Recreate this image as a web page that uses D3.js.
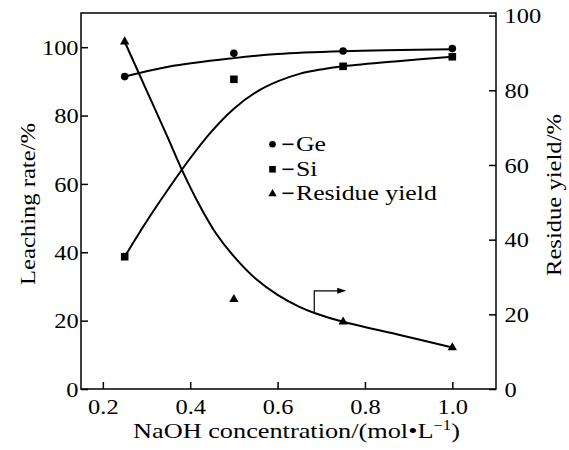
<!DOCTYPE html>
<html><head><meta charset="utf-8">
<script src="https://cdn.jsdelivr.net/npm/d3@7"></script>
<style>body{margin:0;background:#fff}svg{display:block}text{font-family:"Liberation Serif","Times New Roman",serif;fill:#000}</style>
</head><body><svg id="c" width="569" height="450"></svg>
<script>
// ---- data ----
const conc = [0.25, 0.5, 0.75, 1.0];
const ge = [91.4, 98.2, 98.9, 99.6];
const si = [38.7, 90.6, 94.4, 97.2];
const residue = [93.0, 24.0, 18.0, 11.1];
// fitted curves as drawn in the picture
const geFitX = [0.25, 0.35, 0.5, 0.6, 0.75, 1.0];
const geFitY = [91.4, 94.3, 96.8, 98.0, 98.8, 99.4];
const siFitX = [0.25, 0.3, 0.35, 0.4, 0.45, 0.5, 0.55, 0.6, 0.65, 0.7, 0.75, 0.875, 1.0];
const siFitY = [38.7, 49.0, 58.5, 67.5, 75.5, 82.0, 86.8, 90.0, 92.2, 93.5, 94.4, 95.9, 97.2];
const resFitX = [0.25, 0.3, 0.35, 0.381, 0.42, 0.46, 0.5, 0.55, 0.6, 0.65, 0.686, 0.75, 0.875, 1.0];
const resFitY = [93.0, 80.0, 67.0, 58.7, 49.5, 41.5, 35.5, 29.5, 25.2, 22.0, 20.3, 18.0, 14.6, 11.1];
const xTicks = [0.2, 0.4, 0.6, 0.8, 1.0];
const leftTicks = [0, 20, 40, 60, 80, 100];
const rightTicks = [0, 20, 40, 60, 80, 100];
const legendLabels = ["Ge", "Si", "Residue yield"];
const arrowPts = [[0.684, 20.3], [0.684, 26.3], [0.748, 26.3]];

const svg = d3.select("#c");
const L = 81, R = 496, T = 13, B = 389;
const x = d3.scaleLinear().domain([0.15, 1.1]).range([L, R]);
const yL = d3.scaleLinear().domain([0, 110]).range([B, T]);
const yR = d3.scaleLinear().domain([0, 100.7]).range([B, T]);

const SX = 1.22;
svg.append("rect").attr("x", L).attr("y", T).attr("width", R - L).attr("height", B - T)
  .attr("fill", "none").attr("stroke", "#000").attr("stroke-width", 1.5);

function styleAxis(g) {
  g.attr("font-family", null);
  g.select(".domain").remove();
  g.selectAll(".tick line").attr("stroke", "#000").attr("stroke-width", 1.5);
  g.selectAll(".tick text").attr("font-size", 20).attr("fill", "#000");
}
const gx = svg.append("g").attr("transform", `translate(0,${B})`)
  .call(d3.axisBottom(x).tickValues(xTicks).tickSizeInner(-7).tickSizeOuter(0).tickPadding(11).tickFormat(d3.format(".1f")));
styleAxis(gx);
gx.selectAll(".tick text").attr("transform", `scale(${SX},1)`);
const gl = svg.append("g").attr("transform", `translate(${L},0)`)
  .call(d3.axisLeft(yL).tickValues(leftTicks).tickSizeInner(-7).tickSizeOuter(0).tickPadding(2));
styleAxis(gl);
gl.selectAll(".tick text").attr("transform", `scale(${SX},1)`).attr("dy", "0.36em");
const gr = svg.append("g").attr("transform", `translate(${R},0)`)
  .call(d3.axisRight(yR).tickValues(rightTicks).tickSizeInner(-7).tickSizeOuter(0).tickPadding(7));
styleAxis(gr);
gr.selectAll(".tick text").attr("transform", `scale(${SX},1)`).attr("dy", "0.36em");

// curves
const lineL = d3.line().x(d => x(d[0])).y(d => yL(d[1])).curve(d3.curveCatmullRom.alpha(0.5));
const lineR = d3.line().x(d => x(d[0])).y(d => yR(d[1])).curve(d3.curveCatmullRom.alpha(0.5));
const zip = (a, b) => a.map((v, i) => [v, b[i]]);
svg.append("path").attr("d", lineL(zip(geFitX, geFitY))).attr("fill", "none").attr("stroke", "#000").attr("stroke-width", 2);
svg.append("path").attr("d", lineL(zip(siFitX, siFitY))).attr("fill", "none").attr("stroke", "#000").attr("stroke-width", 2);
svg.append("path").attr("d", lineR(zip(resFitX, resFitY))).attr("fill", "none").attr("stroke", "#000").attr("stroke-width", 2);

// markers
const tri = d3.symbol().type(d3.symbolTriangle);
svg.selectAll(".ge").data(zip(conc, ge)).join("circle")
  .attr("cx", d => x(d[0])).attr("cy", d => yL(d[1])).attr("r", 3.8).attr("fill", "#000");
svg.selectAll(".si").data(zip(conc, si)).join("rect")
  .attr("x", d => x(d[0]) - 3.8).attr("y", d => yL(d[1]) - 3.8).attr("width", 7.6).attr("height", 7.6).attr("fill", "#000");
svg.selectAll(".res").data(zip(conc, residue)).join("path")
  .attr("d", tri.size(38)).attr("transform", d => `translate(${x(d[0])},${yR(d[1])})`).attr("fill", "#000");

// arrow
const lineA = d3.line().x(d => x(d[0])).y(d => yR(d[1]));
svg.append("path").attr("d", lineA(arrowPts)).attr("fill", "none").attr("stroke", "#000").attr("stroke-width", 1.2);
const ax = x(arrowPts[2][0]), ay = yR(arrowPts[2][1]);
svg.append("path").attr("d", `M${ax + 4},${ay} L${ax - 5},${ay - 3} L${ax - 5},${ay + 3} Z`).attr("fill", "#000");

// legend
const legY = [144.3, 169.3, 193.3];
const lx = 272.5;
svg.append("circle").attr("cx", lx).attr("cy", legY[0]).attr("r", 3.3).attr("fill", "#000");
svg.append("rect").attr("x", lx - 3.3).attr("y", legY[1] - 3.3).attr("width", 6.6).attr("height", 6.6).attr("fill", "#000");
svg.append("path").attr("d", tri.size(30)).attr("transform", `translate(${lx},${legY[2] + 0.5})`).attr("fill", "#000");
legendLabels.forEach((t, i) => {
  svg.append("line").attr("x1", lx + 10).attr("x2", lx + 21).attr("y1", legY[i]).attr("y2", legY[i])
    .attr("stroke", "#000").attr("stroke-width", 1.6);
  svg.append("text").attr("transform", `translate(${lx + 23.5},${legY[i] + 7}) scale(1.17,1)`)
    .attr("font-size", 22).text(t);
});

// axis titles
svg.append("text").attr("transform", `translate(35,204) rotate(-90)`)
  .attr("text-anchor", "middle").attr("font-size", 22).attr("textLength", 162).attr("lengthAdjust", "spacingAndGlyphs")
  .text("Leaching rate/%");
svg.append("text").attr("transform", `translate(561,195) rotate(-90)`)
  .attr("text-anchor", "middle").attr("font-size", 22).attr("textLength", 162).attr("lengthAdjust", "spacingAndGlyphs")
  .text("Residue yield/%");
const xt = svg.append("text").attr("x", 296.5).attr("y", 437.5).attr("text-anchor", "middle").attr("font-size", 22)
  .attr("textLength", 327).attr("lengthAdjust", "spacingAndGlyphs");
xt.append("tspan").text("NaOH concentration/(mol\u2022L");
xt.append("tspan").attr("font-size", 14).attr("dy", -8).text("\u22121");
xt.append("tspan").attr("dy", 8).text(")");
</script></body></html>
